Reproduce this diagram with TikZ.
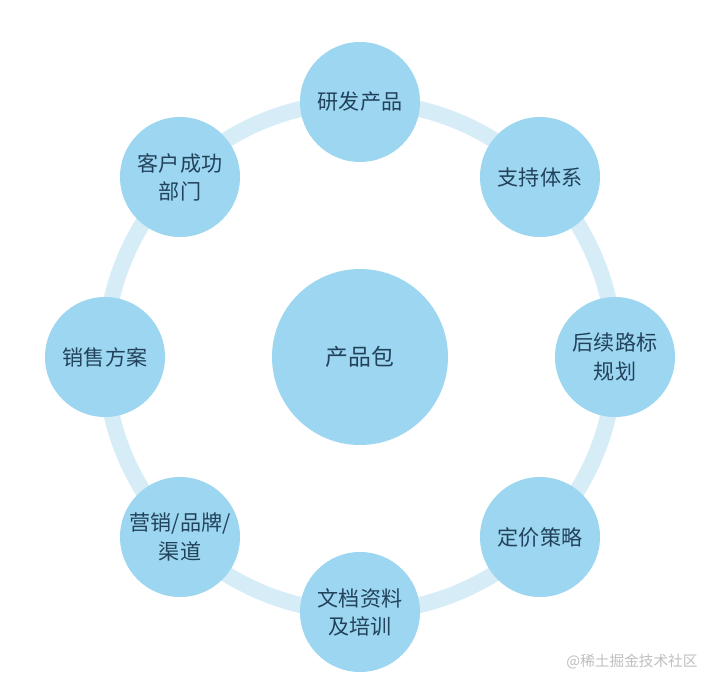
\documentclass[tikz,border=0pt]{standalone}
\usepackage{fontspec}
\newfontfamily\cjk{Noto Sans CJK SC}
\definecolor{bub}{HTML}{9DD6F0}
\definecolor{ringc}{HTML}{D6EDF8}
\definecolor{txt}{HTML}{22425C}
\begin{document}
\begin{tikzpicture}[x=0.03cm,y=-0.03cm,
  bubble/.style={circle,fill=bub,draw=none,minimum size=120*0.03cm,inner sep=0pt,align=center,text=txt,font=\cjk\fontsize{18}{24}\selectfont},
  hub/.style={bubble,minimum size=176*0.03cm,font=\cjk\fontsize{19.5}{24}\selectfont}]
\useasboundingbox (0,0) rectangle (720,693);
\fill[white] (0,0) rectangle (720,693);
\coordinate (c) at (360,357);
\draw[ringc,line width=16*0.03cm] (c) circle[radius=255*0.03cm];
\node[hub] (hub) at (c) {产品包};
\node[bubble] (n1) at (360,102) {研发产品};
\node[bubble] (n2) at (540,177) {支持体系};
\node[bubble] (n3) at (615,357) {后续路标\\规划};
\node[bubble] (n4) at (540,537) {定价策略};
\node[bubble] (n5) at (360,612) {文档资料\\及培训};
\node[bubble] (n6) at (180,537) {营销/品牌/\\渠道};
\node[bubble] (n7) at (105,357) {销售方案};
\node[bubble] (n8) at (180,177) {客户成功\\部门};
\node[text=black!25,font=\cjk\fontsize{12.5}{14}\selectfont] (wm) at (632,662) {@稀土掘金技术社区};
\end{tikzpicture}
\end{document}
